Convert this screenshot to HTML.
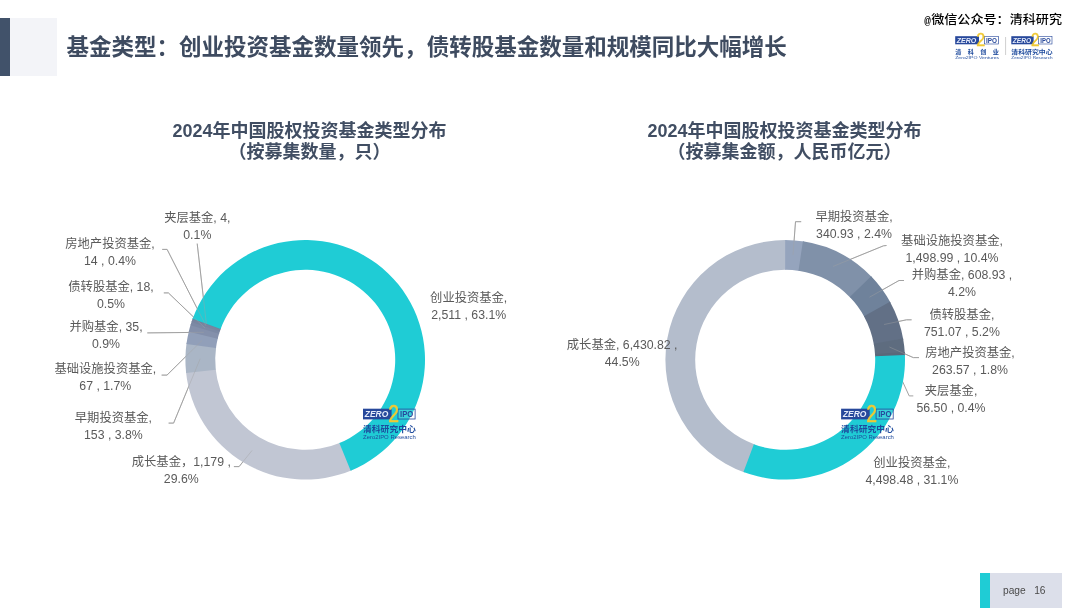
<!DOCTYPE html>
<html lang="zh-CN">
<head>
<meta charset="utf-8">
<title>基金类型</title>
<style>
html,body{margin:0;padding:0;background:#fff;}
body{width:1080px;height:608px;position:relative;overflow:hidden;font-family:"Liberation Sans","Noto Sans CJK SC",sans-serif;}
.abs{position:absolute}
#bar{left:0;top:17.9px;width:9.9px;height:58.6px;background:#41526a}
#panel{left:10px;top:18.3px;width:46.7px;height:57.6px;background:#f3f4f8}
#title{left:66.4px;top:31.8px;font-size:22.52px;line-height:32px;font-weight:700;color:#3e4b60;white-space:nowrap;font-family:"Liberation Sans","Noto Sans CJK SC",sans-serif}
.ct{position:absolute;transform:translateX(-50%);text-align:center;white-space:nowrap;font-weight:700;font-size:18px;line-height:21.8px;color:#414e63}
.lb{position:absolute;transform:translate(-50%,-50%);white-space:nowrap;font-size:12.3px;line-height:14px;color:#5a5a5a}
svg{position:absolute;left:0;top:0}
#wx .at{font-family:"Liberation Mono",monospace;font-size:11px;font-weight:700;display:inline-block;width:7px;position:relative;top:-.5px}
#pg1{left:980px;top:573px;width:10px;height:35px;background:#1fccd5}
#pg2{left:990px;top:573px;width:72px;height:35px;background:#dcdfea}
#pgt{left:1003px;top:583.8px;font-size:10.2px;line-height:14px;color:#4a4a4a;white-space:pre}
#wx{left:924.2px;top:12.3px;transform:scaleY(.94);transform-origin:50% 85%;font-size:13.08px;line-height:16px;color:#000;font-weight:500;white-space:nowrap;text-shadow:-1px 0 #fff,1px 0 #fff,0 -1px #fff,0 1px #fff}
</style>
</head>
<body>
<div id="bar" class="abs"></div>
<div id="panel" class="abs"></div>
<div id="title" class="abs">基金类型：创业投资基金数量领先，债转股基金数量和规模同比大幅增长</div>
<div class="ct" style="left:309.5px;top:120.6px">2024年中国股权投资基金类型分布<br>（按募集数量，只）</div>
<div class="ct" style="left:784.5px;top:120.6px">2024年中国股权投资基金类型分布<br>（按募集金额，人民币亿元）</div>
<svg width="1080" height="608" viewBox="0 0 1080 608">
<g fill="none" stroke="#a2a2a2" stroke-width="1" stroke-linejoin="round"><path d="M197.2 243.6L206.4 324.2"/><path d="M162.2 249.4L167.1 249.4L205.9 325.6"/><path d="M163.8 292.9L168.4 292.9L205.1 328.1"/><path d="M147.3 332.9L203.9 332.3"/><path d="M161.6 375.1L167.0 375.1L202.0 340.5"/><path d="M168.6 423.1L173.6 423.1L200.2 358.7"/><path d="M233.9 466.6L239.1 466.6L252.1 450.4"/><path d="M801.2 221.7L795.5 221.7L793.0 255.1"/><path d="M886.5 245.5L883.5 245.8L833.1 266.4"/><path d="M904.0 280.5L899.0 280.5L869.5 297.2"/><path d="M911.6 319.8L906.5 319.8L884.1 324.5"/><path d="M919.0 357.6L913.3 357.6L889.4 347.0"/><path d="M913.3 395.9L909.2 395.9L890.1 354.3"/></g>
<path d="M351.85 470.14A119.8 119.8 0 0 1 185.99 371.70L215.64 368.74A90.0 90.0 0 0 0 340.24 442.70Z" fill="#c1c6d3"/>
<path d="M186.12 372.95A119.8 119.8 0 0 1 186.61 342.85L216.11 347.06A90.0 90.0 0 0 0 215.74 369.68Z" fill="#aab6c6"/>
<path d="M186.43 344.09A119.8 119.8 0 0 1 189.06 330.42L217.95 337.73A90.0 90.0 0 0 0 215.98 348.00Z" fill="#919fb9"/>
<path d="M188.76 331.64A119.8 119.8 0 0 1 190.86 324.06L219.30 332.95A90.0 90.0 0 0 0 217.72 338.65Z" fill="#8490ab"/>
<path d="M190.49 325.26A119.8 119.8 0 0 1 191.92 320.82L220.10 330.52A90.0 90.0 0 0 0 219.02 333.85Z" fill="#7c89a4"/>
<path d="M191.52 322.01A119.8 119.8 0 0 1 192.81 318.33L220.76 328.64A90.0 90.0 0 0 0 219.79 331.41Z" fill="#78859f"/>
<path d="M192.38 319.51A119.8 119.8 0 0 1 193.07 317.62L220.96 328.11A90.0 90.0 0 0 0 220.44 329.53Z" fill="#74819b"/>
<path d="M192.64 318.80A119.8 119.8 0 1 1 350.69 470.63L339.37 443.06A90.0 90.0 0 1 0 220.64 329.00Z" fill="#1fccd5"/>
<path d="M744.66 472.53A119.8 119.8 0 0 1 786.45 240.01L786.14 269.80A90.0 90.0 0 0 0 754.75 444.49Z" fill="#b4bdcc"/>
<path d="M785.20 240.00A119.8 119.8 0 0 1 804.14 241.51L799.43 270.93A90.0 90.0 0 0 0 785.20 269.80Z" fill="#95a4bd"/>
<path d="M802.90 241.31A119.8 119.8 0 0 1 872.02 277.25L850.42 297.78A90.0 90.0 0 0 0 798.49 270.79Z" fill="#8091a9"/>
<path d="M871.15 276.34A119.8 119.8 0 0 1 890.59 302.84L864.38 317.01A90.0 90.0 0 0 0 849.77 297.10Z" fill="#6f829b"/>
<path d="M889.99 301.74A119.8 119.8 0 0 1 903.30 339.67L873.92 344.67A90.0 90.0 0 0 0 863.93 316.18Z" fill="#627086"/>
<path d="M903.08 338.43A119.8 119.8 0 0 1 904.82 353.30L875.07 354.92A90.0 90.0 0 0 0 873.76 343.75Z" fill="#5e6c7f"/>
<path d="M904.75 352.05A119.8 119.8 0 0 1 904.95 356.25L875.16 357.13A90.0 90.0 0 0 0 875.01 353.98Z" fill="#5a677a"/>
<path d="M904.90 354.99A119.8 119.8 0 0 1 743.48 472.10L753.86 444.17A90.0 90.0 0 0 0 875.13 356.19Z" fill="#1fccd5"/>
<g opacity=".42" fill="none" stroke="#a2a2a2" stroke-width="1" stroke-linejoin="round"><path d="M197.2 243.6L206.4 324.2"/><path d="M162.2 249.4L167.1 249.4L205.9 325.6"/><path d="M163.8 292.9L168.4 292.9L205.1 328.1"/><path d="M147.3 332.9L203.9 332.3"/><path d="M161.6 375.1L167.0 375.1L202.0 340.5"/><path d="M168.6 423.1L173.6 423.1L200.2 358.7"/><path d="M233.9 466.6L239.1 466.6L252.1 450.4"/><path d="M801.2 221.7L795.5 221.7L793.0 255.1"/><path d="M886.5 245.5L883.5 245.8L833.1 266.4"/><path d="M904.0 280.5L899.0 280.5L869.5 297.2"/><path d="M911.6 319.8L906.5 319.8L884.1 324.5"/><path d="M919.0 357.6L913.3 357.6L889.4 347.0"/></g>
<g transform="translate(363 408.7) scale(1 1)" font-family="Liberation Sans, Noto Sans CJK SC, sans-serif">
<rect x="0" y="0" width="28.6" height="10.7" fill="#27489b"/>
<rect x="35" y="0.4" width="17.1" height="9.9" fill="#fff" fill-opacity=".12" stroke="#27489b" stroke-width=".8"/>
<text x="1.8" y="8.7" font-size="8.8" font-weight="700" font-style="italic" fill="#e6ecfb" textLength="23.5" lengthAdjust="spacingAndGlyphs">ZERO</text>
<text x="37.1" y="8.7" font-size="8.8" font-weight="700" fill="#27489b" textLength="13.2" lengthAdjust="spacingAndGlyphs">IPO</text>
<text transform="translate(25.2 13) scale(.8 1)" font-size="24.3" font-weight="400" stroke="#f0c934" stroke-width=".5" fill="#f0c934">2</text>
<text x="0" y="23.4" font-size="8.3" font-weight="700" fill="#1d4a9d" textLength="52.8" lengthAdjust="spacingAndGlyphs">清科研究中心</text>
<text x="0" y="30.2" font-size="5.7" fill="#1f4a9c" textLength="52.8" lengthAdjust="spacingAndGlyphs">Zero2IPO Research</text>
</g>
<g transform="translate(841.1 408.7) scale(1 1)" font-family="Liberation Sans, Noto Sans CJK SC, sans-serif">
<rect x="0" y="0" width="28.6" height="10.7" fill="#27489b"/>
<rect x="35" y="0.4" width="17.1" height="9.9" fill="#fff" fill-opacity=".12" stroke="#27489b" stroke-width=".8"/>
<text x="1.8" y="8.7" font-size="8.8" font-weight="700" font-style="italic" fill="#e6ecfb" textLength="23.5" lengthAdjust="spacingAndGlyphs">ZERO</text>
<text x="37.1" y="8.7" font-size="8.8" font-weight="700" fill="#27489b" textLength="13.2" lengthAdjust="spacingAndGlyphs">IPO</text>
<text transform="translate(25.2 13) scale(.8 1)" font-size="24.3" font-weight="400" stroke="#f0c934" stroke-width=".5" fill="#f0c934">2</text>
<text x="0" y="23.4" font-size="8.3" font-weight="700" fill="#1d4a9d" textLength="52.8" lengthAdjust="spacingAndGlyphs">清科研究中心</text>
<text x="0" y="30.2" font-size="5.7" fill="#1f4a9c" textLength="52.8" lengthAdjust="spacingAndGlyphs">Zero2IPO Research</text>
</g>
<g transform="translate(955.2 36.2) scale(0.8323809523809524 0.7570093457943925)" font-family="Liberation Sans, Noto Sans CJK SC, sans-serif">
<rect x="0" y="0" width="28.6" height="10.7" fill="#27489b"/>
<rect x="35" y="0.4" width="17.1" height="9.9" fill="#fff" fill-opacity=".12" stroke="#27489b" stroke-width=".8"/>
<text x="1.8" y="8.7" font-size="8.8" font-weight="700" font-style="italic" fill="#e6ecfb" textLength="23.5" lengthAdjust="spacingAndGlyphs">ZERO</text>
<text x="37.1" y="8.7" font-size="8.8" font-weight="700" fill="#27489b" textLength="13.2" lengthAdjust="spacingAndGlyphs">IPO</text>
<text transform="translate(25.2 13) scale(.8 1)" font-size="24.3" font-weight="400" stroke="#f0c934" stroke-width=".5" fill="#f0c934">2</text>
<text x="0.00" y="23.8" font-size="7.4" font-weight="700" fill="#1d4a9d">清</text><text x="15.03" y="23.8" font-size="7.4" font-weight="700" fill="#1d4a9d">科</text><text x="30.07" y="23.8" font-size="7.4" font-weight="700" fill="#1d4a9d">创</text><text x="45.10" y="23.8" font-size="7.4" font-weight="700" fill="#1d4a9d">业</text>
<text x="0" y="30.2" font-size="5.7" fill="#1f4a9c" textLength="52.8" lengthAdjust="spacingAndGlyphs">Zero2IPO Ventures</text>
</g>
<g transform="translate(1011.3 36.2) scale(0.780952380952381 0.7570093457943925)" font-family="Liberation Sans, Noto Sans CJK SC, sans-serif">
<rect x="0" y="0" width="28.6" height="10.7" fill="#27489b"/>
<rect x="35" y="0.4" width="17.1" height="9.9" fill="#fff" fill-opacity=".12" stroke="#27489b" stroke-width=".8"/>
<text x="1.8" y="8.7" font-size="8.8" font-weight="700" font-style="italic" fill="#e6ecfb" textLength="23.5" lengthAdjust="spacingAndGlyphs">ZERO</text>
<text x="37.1" y="8.7" font-size="8.8" font-weight="700" fill="#27489b" textLength="13.2" lengthAdjust="spacingAndGlyphs">IPO</text>
<text transform="translate(25.2 13) scale(.8 1)" font-size="24.3" font-weight="400" stroke="#f0c934" stroke-width=".5" fill="#f0c934">2</text>
<text x="0" y="23.8" font-size="7.6" font-weight="700" fill="#1d4a9d" textLength="52.8" lengthAdjust="spacingAndGlyphs">清科研究中心</text>
<text x="0" y="30.2" font-size="5.7" fill="#1f4a9c" textLength="52.8" lengthAdjust="spacingAndGlyphs">Zero2IPO Research</text>
</g>
<path d="M1005.6 37V55" stroke="#cfcfcf" stroke-width="1" fill="none"/>
</svg>
<div class="lb" style="left:197.3px;top:217.8px">夹层基金, 4,</div>
<div class="lb" style="left:197.3px;top:234.9px">0.1%</div>
<div class="lb" style="left:110px;top:243.5px">房地产投资基金,</div>
<div class="lb" style="left:110px;top:261px">14 , 0.4%</div>
<div class="lb" style="left:111px;top:287px">债转股基金, 18,</div>
<div class="lb" style="left:111px;top:304px">0.5%</div>
<div class="lb" style="left:106px;top:327.2px">并购基金, 35,</div>
<div class="lb" style="left:106px;top:344px">0.9%</div>
<div class="lb" style="left:105.3px;top:368.8px">基础设施投资基金,</div>
<div class="lb" style="left:105.3px;top:386px">67 , 1.7%</div>
<div class="lb" style="left:113.4px;top:417.9px">早期投资基金,</div>
<div class="lb" style="left:113.4px;top:434.9px">153 , 3.8%</div>
<div class="lb" style="left:181.3px;top:462px">成长基金，1,179 ,</div>
<div class="lb" style="left:181.3px;top:479px">29.6%</div>
<div class="lb" style="left:468.7px;top:298.2px">创业投资基金,</div>
<div class="lb" style="left:468.7px;top:315.0px">2,511 , 63.1%</div>
<div class="lb" style="left:854px;top:216.8px">早期投资基金,</div>
<div class="lb" style="left:854px;top:233.7px">340.93 , 2.4%</div>
<div class="lb" style="left:952px;top:241px">基础设施投资基金,</div>
<div class="lb" style="left:952px;top:257.6px">1,498.99 , 10.4%</div>
<div class="lb" style="left:962px;top:275px">并购基金, 608.93 ,</div>
<div class="lb" style="left:962px;top:292px">4.2%</div>
<div class="lb" style="left:961.9px;top:315.1px">债转股基金,</div>
<div class="lb" style="left:961.9px;top:331.7px">751.07 , 5.2%</div>
<div class="lb" style="left:970px;top:353.4px">房地产投资基金,</div>
<div class="lb" style="left:970px;top:370.1px">263.57 , 1.8%</div>
<div class="lb" style="left:951px;top:390.9px">夹层基金,</div>
<div class="lb" style="left:951px;top:407.6px">56.50 , 0.4%</div>
<div class="lb" style="left:911.9px;top:463.4px">创业投资基金,</div>
<div class="lb" style="left:911.9px;top:479.8px">4,498.48 , 31.1%</div>
<div class="lb" style="left:622.2px;top:344.6px">成长基金, 6,430.82 ,</div>
<div class="lb" style="left:622.2px;top:361.5px">44.5%</div>
<div id="wx" class="abs"><span class="at">@</span>微信公众号：清科研究</div>
<div id="pg1" class="abs"></div>
<div id="pg2" class="abs"></div>
<div id="pgt" class="abs">page   16</div>
</body>
</html>
